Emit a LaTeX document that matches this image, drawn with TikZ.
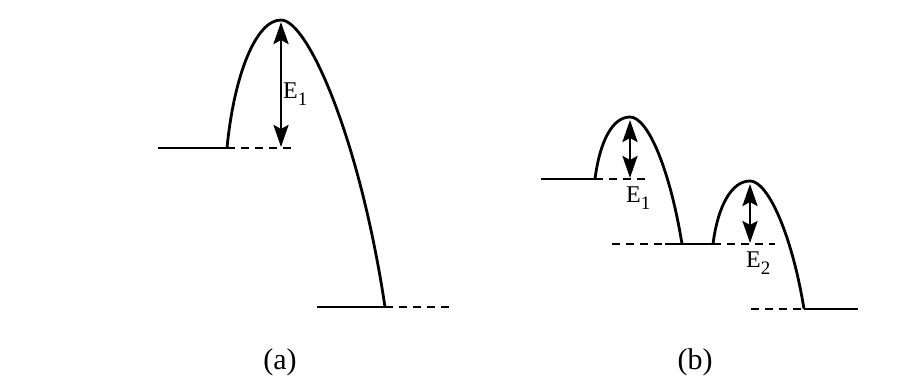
\documentclass[tikz,border=0pt]{standalone}
\usepackage{fontspec}
\setmainfont{Liberation Serif}
\usetikzlibrary{arrows.meta}
\newcommand{\esub}[1]{E\raisebox{-7pt}{\fontsize{19}{20}\selectfont #1}}
\begin{document}
\begin{tikzpicture}[x=1pt,y=-1pt,
  lvl/.style={line width=2.8pt},
  dsh/.style={line width=2.8pt,dash pattern=on 8pt off 6pt},
  hill/.style={line width=2.8pt,line join=round},
  dblarr/.style={line width=2.8pt,{Stealth[length=22pt,width=15pt,inset=4pt]}-{Stealth[length=22pt,width=15pt,inset=4pt]}},
  elab/.style={font=\fontsize{24}{28}\selectfont,inner sep=0pt},
  plab/.style={font=\fontsize{30}{34}\selectfont,inner sep=0pt}]
\useasboundingbox (0,0) rectangle (897,378);
% (a)
\coordinate (a0) at (158,148);
\coordinate (a1) at (227,148);
\coordinate (a2) at (295,148);
\coordinate (ap) at (281,20);
\coordinate (ab) at (385,307);
\coordinate (ab0) at (317,307);
\coordinate (ab1) at (453,307);
\draw[lvl] (a0) -- (a1);
\draw[dsh] (a1) -- (a2);
\draw[hill] (a1) .. controls (234,75) and (256,20) .. (ap)
  .. controls (308,20) and (360,140) .. (ab);
\draw[lvl] (ab0) -- (ab);
\draw[dsh] (ab) -- (ab1);
\coordinate (aa1) at (281,22);
\coordinate (aa2) at (281,147);
\draw[dblarr] (aa1) -- (aa2);
\node[elab,anchor=base west] (ea) at (283,98) {\esub{1}};
\node[plab,anchor=base] (la) at (280,369) {(a)};
% (b)
\coordinate (b0) at (541,179);
\coordinate (b1) at (595,179);
\coordinate (b2) at (649,179);
\coordinate (bp1) at (630,117);
\coordinate (bm) at (682,244);
\coordinate (bm0) at (612,244);
\coordinate (bmx) at (665,244);
\coordinate (bm1) at (713,244);
\coordinate (bm2) at (775,244);
\coordinate (bp2) at (750,181);
\coordinate (bb) at (804,309);
\coordinate (bb0) at (751,309);
\coordinate (bb1) at (858,309);
\draw[lvl] (b0) -- (b1);
\draw[dsh] (b1) -- (b2);
\draw[hill] (b1) .. controls (600,140) and (613,117) .. (bp1)
  .. controls (648,117) and (670,170) .. (bm);
\draw[dsh] (bm0) -- (bmx);
\draw[lvl] (bmx) -- (bm1);
\draw[dsh] (bm1) -- (bm2);
\draw[hill] (bm1) .. controls (718,205) and (732,181) .. (bp2)
  .. controls (768,181) and (792,235) .. (bb);
\draw[dsh] (bb0) -- (bb);
\draw[lvl] (bb) -- (bb1);
\coordinate (ba1) at (630,120);
\coordinate (ba2) at (630,178);
\coordinate (bc1) at (750,184);
\coordinate (bc2) at (750,243);
\draw[dblarr] (ba1) -- (ba2);
\draw[dblarr] (bc1) -- (bc2);
\node[elab,anchor=base west] (eb1) at (626,202) {\esub{1}};
\node[elab,anchor=base west] (eb2) at (746,267) {\esub{2}};
\node[plab,anchor=base] (lb) at (695,369) {(b)};
\end{tikzpicture}
\end{document}
